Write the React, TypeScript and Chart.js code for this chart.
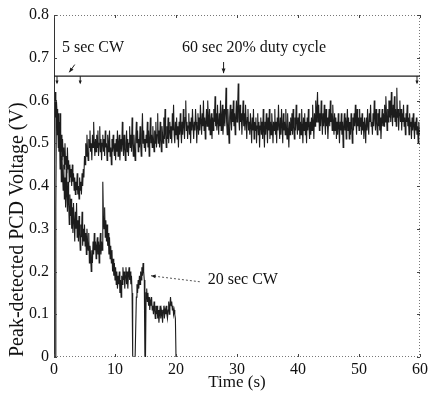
import { useEffect, useRef } from "react";
import { Chart, registerables } from "chart.js";

Chart.register(...registerables);

// Sampling interval of both recorded traces (s)
const SAMPLE_STEP = 0.1;

// Trace 1: 5 sec CW followed by 60 sec 20% duty cycle (V), t = 0 .. 60 s
const dutyCycleVoltage: number[] = [
  0, 0.45, 0.62, 0.56, 0.6, 0.52, 0.58, 0.49, 0.55, 0.5,
  0.57, 0.48, 0.52, 0.46, 0.51, 0.47, 0.49, 0.44, 0.5, 0.45,
  0.47, 0.43, 0.49, 0.44, 0.46, 0.41, 0.45, 0.42, 0.44, 0.4,
  0.45, 0.41, 0.43, 0.39, 0.42, 0.38, 0.41, 0.39, 0.43, 0.38,
  0.4, 0.37, 0.42, 0.39, 0.41, 0.38, 0.43, 0.4, 0.44, 0.42,
  0.47,
  0.45, 0.5, 0.47, 0.52, 0.48, 0.46, 0.51, 0.49, 0.53, 0.48,
  0.5, 0.46, 0.52, 0.49, 0.55, 0.5, 0.47, 0.51, 0.48, 0.52,
  0.49, 0.53, 0.47, 0.5, 0.54, 0.48, 0.51, 0.46, 0.5, 0.52,
  0.48, 0.51, 0.47, 0.53, 0.49, 0.5, 0.46, 0.52, 0.48, 0.5,
  0.53, 0.47, 0.49, 0.45, 0.51, 0.48, 0.52, 0.49, 0.47, 0.5,
  0.46, 0.51, 0.48, 0.53, 0.47, 0.5, 0.52, 0.46, 0.49, 0.51,
  0.48, 0.55, 0.5, 0.47, 0.52, 0.49, 0.46, 0.5, 0.53, 0.48,
  0.51, 0.47, 0.5, 0.54, 0.49, 0.52, 0.48, 0.56, 0.5, 0.47,
  0.52, 0.49, 0.46, 0.51, 0.55, 0.5, 0.53, 0.48, 0.51, 0.49,
  0.54, 0.5, 0.47, 0.52, 0.57, 0.5, 0.53, 0.49, 0.51, 0.48,
  0.52, 0.5, 0.55, 0.49, 0.53, 0.47, 0.51, 0.56, 0.5, 0.52,
  0.49, 0.54, 0.51, 0.48, 0.53, 0.5, 0.55, 0.49, 0.52, 0.57,
  0.5, 0.53, 0.49, 0.55, 0.51, 0.48, 0.54, 0.52, 0.5, 0.56,
  0.51, 0.58, 0.52, 0.49, 0.54, 0.51, 0.56, 0.5, 0.53, 0.55,
  0.51, 0.54, 0.5, 0.57, 0.53, 0.59, 0.52, 0.5, 0.55, 0.52,
  0.56, 0.51, 0.54, 0.49, 0.55, 0.52, 0.57, 0.53, 0.5, 0.55,
  0.52, 0.58, 0.54, 0.51, 0.56, 0.6, 0.53, 0.55, 0.51, 0.54,
  0.57, 0.52, 0.55, 0.5, 0.56, 0.53, 0.58, 0.54, 0.51, 0.55,
  0.53, 0.58, 0.55, 0.5, 0.54, 0.57, 0.52, 0.56, 0.53, 0.59,
  0.55, 0.52, 0.57, 0.54, 0.6, 0.53, 0.56, 0.51, 0.55, 0.58,
  0.54, 0.6, 0.56, 0.53, 0.58, 0.52, 0.55, 0.57, 0.51, 0.56,
  0.53, 0.58, 0.55, 0.61, 0.54, 0.57, 0.53, 0.59, 0.55, 0.52,
  0.57, 0.54, 0.6, 0.53, 0.56, 0.59, 0.52, 0.55, 0.58, 0.54,
  0.57, 0.63, 0.55, 0.52, 0.58, 0.54, 0.5, 0.56, 0.59, 0.55,
  0.53, 0.58, 0.55, 0.6, 0.54, 0.57, 0.52, 0.56, 0.6, 0.55,
  0.58, 0.64, 0.56, 0.53, 0.59, 0.55, 0.57, 0.52, 0.56, 0.6,
  0.54, 0.57, 0.53, 0.59, 0.55, 0.51, 0.56, 0.58, 0.53, 0.55,
  0.52, 0.57, 0.54, 0.5, 0.56, 0.53, 0.58, 0.51, 0.55, 0.53,
  0.56, 0.5, 0.54, 0.57, 0.52, 0.55, 0.49, 0.54, 0.56, 0.52,
  0.55, 0.51, 0.58, 0.53, 0.49, 0.55, 0.52, 0.57, 0.54, 0.5,
  0.56, 0.53, 0.58, 0.51, 0.55, 0.52, 0.57, 0.54, 0.5, 0.55,
  0.53, 0.58, 0.52, 0.55, 0.5, 0.56, 0.53, 0.59, 0.54, 0.51,
  0.56, 0.52, 0.58, 0.54, 0.5, 0.57, 0.53, 0.55, 0.52, 0.58,
  0.54, 0.51, 0.57, 0.53, 0.49, 0.55, 0.52, 0.56, 0.53, 0.57,
  0.52, 0.58, 0.54, 0.51, 0.56, 0.53, 0.59, 0.55, 0.52, 0.56,
  0.53, 0.57, 0.51, 0.55, 0.52, 0.58, 0.54, 0.5, 0.56, 0.53,
  0.57, 0.52, 0.55, 0.5, 0.56, 0.53, 0.58, 0.54, 0.51, 0.55,
  0.52, 0.56, 0.53, 0.59, 0.55, 0.51, 0.57, 0.54, 0.6, 0.55,
  0.58, 0.62, 0.55, 0.59, 0.53, 0.57, 0.54, 0.6, 0.56, 0.52,
  0.57, 0.54, 0.59, 0.55, 0.52, 0.58, 0.54, 0.56, 0.51, 0.55,
  0.58, 0.54, 0.6, 0.55, 0.57, 0.53, 0.59, 0.55, 0.52, 0.57,
  0.53, 0.56, 0.51, 0.55, 0.52, 0.57, 0.54, 0.5, 0.55, 0.53,
  0.57, 0.52, 0.55, 0.49, 0.54, 0.57, 0.53, 0.56, 0.51, 0.55,
  0.58, 0.53, 0.56, 0.51, 0.55, 0.52, 0.57, 0.54, 0.5, 0.56,
  0.53, 0.57, 0.54, 0.59, 0.55, 0.52, 0.58, 0.54, 0.56, 0.53,
  0.58, 0.54, 0.56, 0.52, 0.57, 0.53, 0.55, 0.51, 0.56, 0.54,
  0.5, 0.56, 0.53, 0.58, 0.54, 0.52, 0.57, 0.55, 0.59, 0.54,
  0.55, 0.52, 0.57, 0.54, 0.6, 0.56, 0.53, 0.58, 0.55, 0.52,
  0.57, 0.54, 0.58, 0.53, 0.56, 0.51, 0.55, 0.58, 0.54, 0.57,
  0.54, 0.59, 0.55, 0.61, 0.57, 0.53, 0.58, 0.55, 0.6, 0.56,
  0.6, 0.55, 0.62, 0.57, 0.54, 0.59, 0.56, 0.61, 0.55, 0.58,
  0.54, 0.63, 0.56, 0.58, 0.53, 0.57, 0.6, 0.55, 0.58, 0.53,
  0.57, 0.55, 0.59, 0.54, 0.56, 0.52, 0.57, 0.55, 0.59, 0.54,
  0.56, 0.52, 0.57, 0.54, 0.55, 0.51, 0.56, 0.53, 0.57, 0.54,
  0.51, 0.55, 0.53, 0.56, 0.52, 0.54, 0.5, 0.55, 0.53, 0.52,
];

// Trace 2: 20 sec CW (V), t = 0 .. 20 s
const cw20Voltage: number[] = [
  0, 0, 0, 0.35, 0.6, 0.56, 0.52, 0.57, 0.48, 0.53,
  0.44, 0.5, 0.41, 0.47, 0.43, 0.39, 0.45, 0.37, 0.42, 0.35,
  0.44, 0.38, 0.34, 0.41, 0.36, 0.31, 0.38, 0.33, 0.37, 0.3,
  0.35, 0.29, 0.36, 0.32, 0.27, 0.34, 0.3, 0.36, 0.28, 0.32,
  0.27, 0.33, 0.29, 0.25, 0.31, 0.28, 0.34, 0.26, 0.3, 0.27,
  0.31, 0.26, 0.29, 0.24, 0.3, 0.27, 0.25, 0.29, 0.22, 0.26,
  0.24, 0.2, 0.25, 0.22, 0.27, 0.24, 0.29, 0.25, 0.27, 0.23,
  0.26, 0.28, 0.24, 0.27, 0.22, 0.26, 0.29, 0.24, 0.27, 0.25,
  0.41, 0.33, 0.3, 0.35, 0.28, 0.32, 0.27, 0.31, 0.26, 0.29,
  0.24, 0.28, 0.23, 0.26, 0.22, 0.25, 0.2, 0.23, 0.19, 0.22,
  0.18, 0.21, 0.17, 0.2, 0.16, 0.19, 0.17, 0.2, 0.15, 0.18,
  0.14, 0.19, 0.17, 0.21, 0.18, 0.2, 0.16, 0.19, 0.21, 0.17,
  0.2, 0.16, 0.19, 0.21, 0.18, 0.2, 0.17, 0.19, 0.15, 0,
  0, 0, 0, 0, 0, 0.14, 0.17, 0.15, 0.18, 0.16,
  0.19, 0.17, 0.2, 0.18, 0.21, 0.19, 0.22, 0.2, 0.18, 0,
  0, 0.15, 0.16, 0.13, 0.15, 0.12, 0.14, 0.11, 0.13, 0.12,
  0.14, 0.11, 0.12, 0.1, 0.13, 0.11, 0.09, 0.12, 0.1, 0.12,
  0.09, 0.11, 0.08, 0.1, 0.12, 0.09, 0.11, 0.1, 0.08, 0.11,
  0.12, 0.09, 0.11, 0.1, 0.12, 0.1, 0.09, 0.11, 0.13, 0.1,
  0.12, 0.14, 0.12, 0.13, 0.11, 0.12, 0.1, 0.11, 0.1, 0.09,
  0,
];

const xTickValues = [0, 10, 20, 30, 40, 50, 60];
const yTickValues = [0, 0.1, 0.2, 0.3, 0.4, 0.5, 0.6, 0.7, 0.8];
const yTickLabels = ["0", "0.1", "0.2", "0.3", "0.4", "0.5", "0.6", "0.7", "0.8"];

// Annotations (data coordinates)
const protocolLineLevel = 0.657;
const protocolMarks = [0, 4.3, 60];
const annotationTexts = [
  { text: "5 sec CW", t: 1.3, v: 0.723 },
  { text: "60 sec 20% duty cycle", t: 21, v: 0.723 },
  { text: "20 sec CW", t: 25.2, v: 0.181 },
];
const annotationArrows = [
  { from: [3.4, 0.684], to: [2.5, 0.666], dashed: false },
  { from: [27.8, 0.69], to: [27.8, 0.664], dashed: false },
  { from: [23.9, 0.176], to: [15.9, 0.19], dashed: true },
];

const SERIF = "'Liberation Serif', serif";
const INK = "#1c1c1c";

function toPoints(values: number[]) {
  return values.map((v, i) => ({ x: Math.round(i * SAMPLE_STEP * 10) / 10, y: v }));
}

function drawArrowHead(ctx: CanvasRenderingContext2D, x0: number, y0: number, x1: number, y1: number, size: number) {
  const a = Math.atan2(y1 - y0, x1 - x0);
  ctx.beginPath();
  ctx.moveTo(x1, y1);
  ctx.lineTo(x1 - size * Math.cos(a - 0.4), y1 - size * Math.sin(a - 0.4));
  ctx.lineTo(x1 - size * Math.cos(a + 0.4), y1 - size * Math.sin(a + 0.4));
  ctx.closePath();
  ctx.fill();
}

const decorPlugin = {
  id: "decor",
  afterDatasetsDraw(chart: any) {
    const { ctx, chartArea: ca, scales } = chart;
    const xs = scales.x;
    const ys = scales.y;
    ctx.save();
    // frame
    ctx.lineWidth = 1;
    ctx.strokeStyle = "#777";
    ctx.setLineDash([1, 2]);
    ctx.beginPath();
    ctx.moveTo(ca.left, ca.top + 0.5);
    ctx.lineTo(ca.right, ca.top + 0.5);
    ctx.moveTo(ca.right - 0.5, ca.top);
    ctx.lineTo(ca.right - 0.5, ca.bottom);
    ctx.moveTo(ca.left, ca.bottom - 0.5);
    ctx.lineTo(ca.right, ca.bottom - 0.5);
    ctx.stroke();
    ctx.setLineDash([]);
    ctx.strokeStyle = "#333";
    ctx.beginPath();
    ctx.moveTo(ca.left + 0.5, ca.top);
    ctx.lineTo(ca.left + 0.5, ca.bottom);
    ctx.stroke();
    // inward ticks
    ctx.strokeStyle = "#444";
    ctx.beginPath();
    for (const t of xTickValues) {
      const px = Math.round(xs.getPixelForValue(t)) + 0.5;
      ctx.moveTo(px, ca.bottom);
      ctx.lineTo(px, ca.bottom - 3);
      ctx.moveTo(px, ca.top);
      ctx.lineTo(px, ca.top + 3);
    }
    for (const v of yTickValues) {
      const py = Math.round(ys.getPixelForValue(v)) + 0.5;
      ctx.moveTo(ca.left, py);
      ctx.lineTo(ca.left + 3, py);
      ctx.moveTo(ca.right, py);
      ctx.lineTo(ca.right - 3, py);
    }
    ctx.stroke();
    // protocol line
    ctx.strokeStyle = INK;
    ctx.fillStyle = INK;
    ctx.lineWidth = 1.3;
    const ly = ys.getPixelForValue(protocolLineLevel);
    ctx.beginPath();
    ctx.moveTo(xs.getPixelForValue(0), ly);
    ctx.lineTo(xs.getPixelForValue(60), ly);
    ctx.stroke();
    ctx.lineWidth = 1;
    for (const m of protocolMarks) {
      const px = Math.min(Math.max(xs.getPixelForValue(m), ca.left + 3), ca.right - 3);
      ctx.beginPath();
      ctx.moveTo(px, ly);
      ctx.lineTo(px, ly + 7);
      ctx.stroke();
      drawArrowHead(ctx, px, ly, px, ly + 8, 4);
    }
    // arrows
    for (const a of annotationArrows) {
      const x0 = xs.getPixelForValue(a.from[0]);
      const y0 = ys.getPixelForValue(a.from[1]);
      const x1 = xs.getPixelForValue(a.to[0]);
      const y1 = ys.getPixelForValue(a.to[1]);
      ctx.strokeStyle = a.dashed ? "#555" : INK;
      ctx.setLineDash(a.dashed ? [2, 2] : []);
      ctx.beginPath();
      ctx.moveTo(x0, y0);
      ctx.lineTo(x1, y1);
      ctx.stroke();
      ctx.setLineDash([]);
      drawArrowHead(ctx, x0, y0, x1, y1, 5);
    }
    // texts
    ctx.fillStyle = "#111";
    ctx.font = `16px ${SERIF}`;
    ctx.textAlign = "left";
    ctx.textBaseline = "middle";
    for (const t of annotationTexts) {
      ctx.fillText(t.text, xs.getPixelForValue(t.t), ys.getPixelForValue(t.v));
    }
    ctx.restore();
  },
};

export default function App() {
  const canvasRef = useRef<HTMLCanvasElement | null>(null);

  useEffect(() => {
    if (!canvasRef.current) return;
    const chart = new Chart(canvasRef.current, {
      type: "line",
      data: {
        datasets: [
          {
            label: "60 sec 20% duty cycle",
            data: toPoints(dutyCycleVoltage),
            borderColor: INK,
            borderWidth: 1.1,
            pointRadius: 0,
            tension: 0,
          },
          {
            label: "20 sec CW",
            data: toPoints(cw20Voltage),
            borderColor: INK,
            borderWidth: 1.1,
            pointRadius: 0,
            tension: 0,
          },
        ],
      },
      options: {
        animation: false,
        responsive: false,
        devicePixelRatio: 1,
        layout: { padding: { top: 15, right: 12, left: 0, bottom: 0 } },
        plugins: { legend: { display: false }, tooltip: { enabled: false } },
        scales: {
          x: {
            type: "linear",
            min: 0,
            max: 60,
            afterBuildTicks: (s: any) => {
              s.ticks = xTickValues.map((v) => ({ value: v }));
            },
            ticks: {
              font: { family: SERIF, size: 16 },
              color: "#111",
              padding: 3,
              maxRotation: 0,
              autoSkip: false,
            },
            grid: { display: false, drawTicks: false },
            border: { display: false },
            title: {
              display: true,
              text: "Time (s)",
              font: { family: SERIF, size: 17 },
              color: "#111",
              padding: { top: 0, bottom: 1 },
            },
            afterFit: (s: any) => {
              s.height = 37;
            },
          },
          y: {
            type: "linear",
            min: 0,
            max: 0.8,
            afterBuildTicks: (s: any) => {
              s.ticks = yTickValues.map((v) => ({ value: v }));
            },
            ticks: {
              font: { family: SERIF, size: 16 },
              color: "#111",
              padding: 5,
              autoSkip: false,
              callback: (_v: any, i: number) => yTickLabels[i],
            },
            grid: { display: false, drawTicks: false },
            border: { display: false },
            title: {
              display: true,
              text: "Peak-detected PCD Voltage (V)",
              align: "start",
              font: { family: SERIF, size: 20 },
              color: "#111",
              padding: { top: 6, bottom: 0 },
            },
            afterFit: (s: any) => {
              s.width = 54;
            },
          },
        },
      },
      plugins: [decorPlugin],
    } as any);
    return () => chart.destroy();
  }, []);

  return (
    <div style={{ position: "fixed", left: 0, top: 0, width: 432, height: 394, background: "#fff" }}>
      <canvas ref={canvasRef} width={432} height={394} style={{ display: "block" }} />
    </div>
  );
}
